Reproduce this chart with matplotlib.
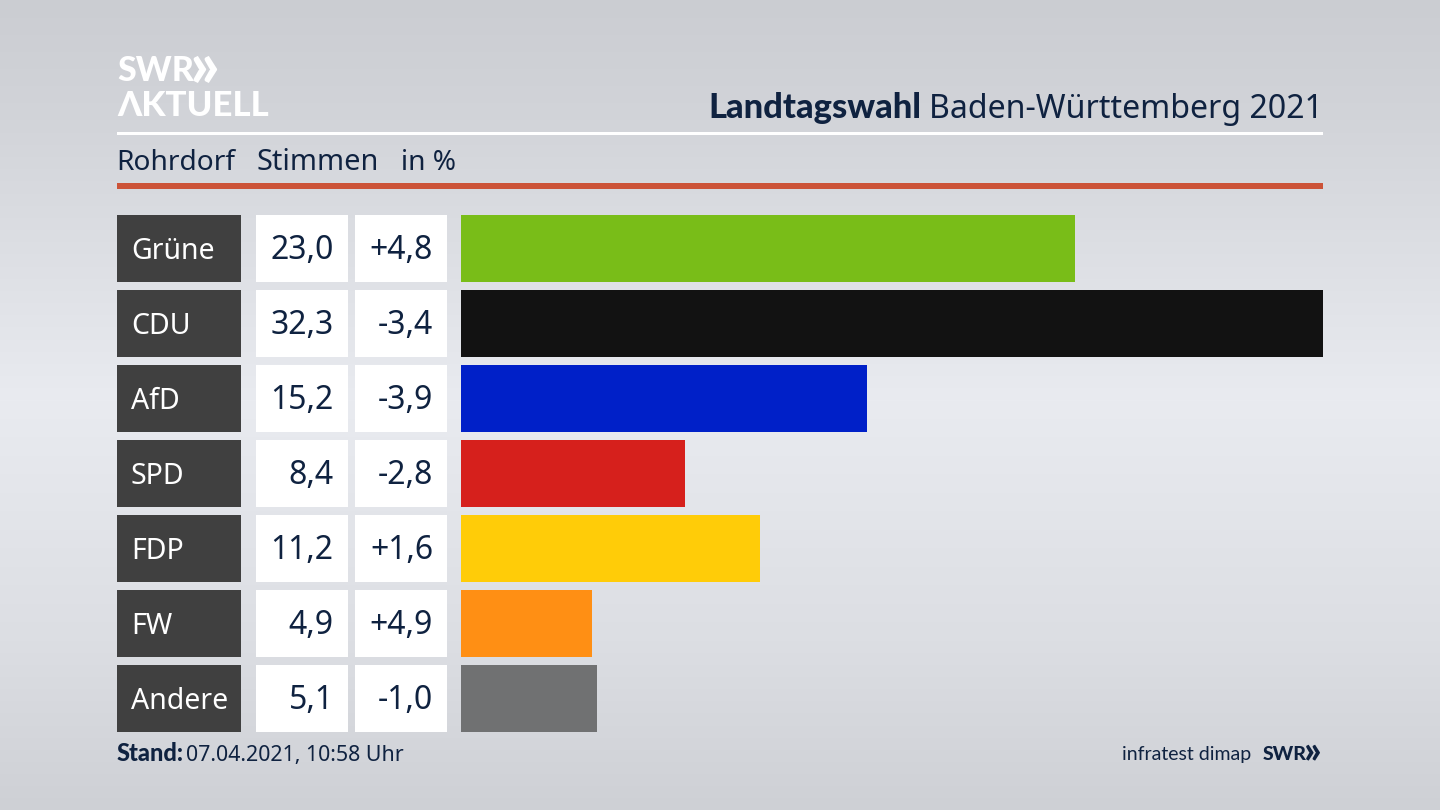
import numpy as np
import matplotlib
matplotlib.use("Agg")
import matplotlib.pyplot as plt
from matplotlib.patches import Rectangle

parties = ["Grüne", "CDU", "AfD", "SPD", "FDP", "FW", "Andere"]
shares = [23.0, 32.3, 15.2, 8.4, 11.2, 4.9, 5.1]
changes = ["+4,8", "-3,4", "-3,9", "-2,8", "+1,6", "+4,9", "-1,0"]
colors = ["#79BD18", "#121212", "#0020C8", "#D6201C", "#FFCC08", "#FF8F14", "#707172"]

W, H = 1440, 810
NAVY = "#0F2240"
BOLD = ["Lato", "DejaVu Sans"]
plt.rcParams["font.family"] = ["Noto Sans", "DejaVu Sans"]

fig = plt.figure(figsize=(W / 100, H / 100), dpi=100)

bg = fig.add_axes([0, 0, 1, 1], zorder=0)
stops_y = [0, 120, 400, 640, 810]
stops_v = [203, 210, 233, 220, 206]
grad = np.interp(np.arange(H), stops_y, stops_v)
rgb = np.stack([grad, grad + 2, grad + 7], axis=1).clip(0, 255)[:, None, :] / 255
bg.imshow(rgb, extent=[0, W, H, 0], aspect="auto", zorder=0)
bg.set_xlim(0, W)
bg.set_ylim(H, 0)
bg.axis("off")

# header rules
bg.add_patch(Rectangle((117, 132), 1206, 3, color="white", lw=0, zorder=2))
bg.add_patch(Rectangle((117, 183), 1206, 6, color="#CC5338", lw=0, zorder=2))

# logo
bg.text(117, 81, "SWR", color="white", fontsize=24.5, fontweight="black", family=BOLD, va="baseline", ha="left", zorder=3)
bg.text(190, 87, "»", color="white", fontsize=46, fontweight="black", family=BOLD, va="baseline", ha="left", zorder=3)
bg.text(117, 116, "ΛKTUELL", color="white", fontsize=25, fontweight="black", family=BOLD, va="baseline", ha="left", zorder=3)

# title
bg.text(1323, 118, "Baden-Württemberg 2021", color=NAVY, fontsize=23.1, va="baseline", ha="right", zorder=3)
bg.text(921, 118, "Landtagswahl", color=NAVY, fontsize=24.8, fontweight="black", family=BOLD, va="baseline", ha="right", zorder=3)

# column headers
for x, s, fs in [(116, "Rohrdorf", 20.2), (257, "Stimmen", 20.8), (401, "in %", 20.2)]:
    bg.text(x, 170, s, color=NAVY, fontsize=fs, va="baseline", ha="left", zorder=3)

# table cells
row_tops = 215 + 75 * np.arange(len(parties))
for top, p, v, c in zip(row_tops, parties, shares, changes):
    h = 67
    bg.add_patch(Rectangle((117, top), 124, h, color="#404040", lw=0, zorder=2))
    bg.add_patch(Rectangle((255.5, top), 92.5, h, color="white", lw=0, zorder=2))
    bg.add_patch(Rectangle((354.5, top), 92.5, h, color="white", lw=0, zorder=2))
    base = top + 44
    bg.text(131, base, p, color="white", fontsize=20.5, va="baseline", ha="left", zorder=3)
    bg.text(333.5, base, f"{v:.1f}".replace(".", ","), color=NAVY, fontsize=23, va="baseline", ha="right", zorder=3)
    bg.text(433, base, c, color=NAVY, fontsize=23, va="baseline", ha="right", zorder=3)

# footer
bg.text(117, 761, "Stand:", color=NAVY, fontsize=17, fontweight="black", family=BOLD, va="baseline", ha="left", zorder=3)
bg.text(186, 761, "07.04.2021, 10:58 Uhr", color=NAVY, fontsize=15.4, va="baseline", ha="left", zorder=3)
bg.text(1251, 760, "infratest dimap", color=NAVY, fontsize=14, family=BOLD, va="baseline", ha="right", zorder=3)
bg.text(1263, 760, "SWR", color=NAVY, fontsize=14, fontweight="black", family=BOLD, va="baseline", ha="left", zorder=3)
bg.text(1304, 762, "»", color=NAVY, fontsize=27, fontweight="black", family=BOLD, va="baseline", ha="left", zorder=3)

# bars
ax = fig.add_axes([461 / W, 1 - 732 / H, (1323 - 461) / W, (732 - 215) / H], zorder=1)
ax.patch.set_alpha(0)
ax.barh(np.arange(len(parties)), shares, height=67 / 75, color=colors, lw=0)
ax.set_xlim(0, max(shares))
ax.set_ylim(6 + 33.5 / 75, -33.5 / 75)
ax.axis("off")

fig.savefig("out.png", dpi=100)
